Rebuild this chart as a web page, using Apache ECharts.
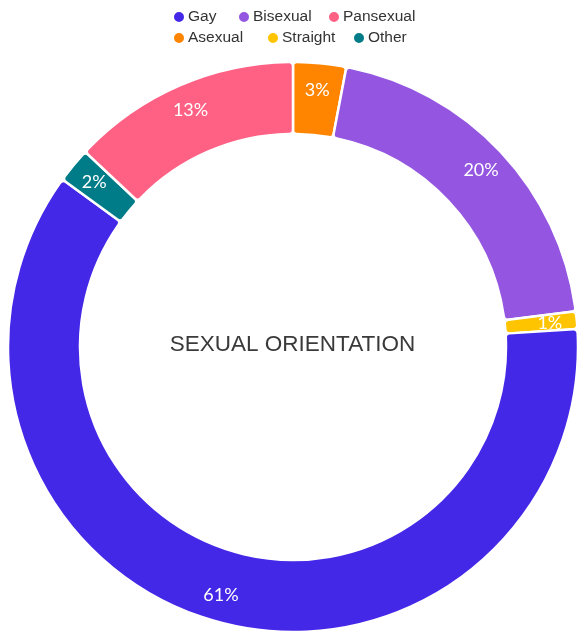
<!DOCTYPE html>
<html>
<head>
<meta charset="utf-8">
<script src="https://cdn.jsdelivr.net/npm/echarts@6/dist/echarts.min.js"></script>
<style>
  html, body, #main { width: 100%; height: 100%; margin: 0; background: #fff; }
</style>
</head>
<body>
<div id="main"></div>
<script>
// slices in drawing order, clockwise from 12 o'clock
var names = ['Asexual', 'Bisexual', 'Straight', 'Gay', 'Other', 'Pansexual']
var values = [3, 20, 1, 61, 2, 13]
var colors = ['#ff8500', '#9455e1', '#ffc400', '#4428e7', '#007c89', '#ff6184']
// legend rows as they appear at the top
var legendRow1 = ['Gay', 'Bisexual', 'Pansexual']
var legendRow2 = ['Asexual', 'Straight', 'Other']

var data = names.map(function (n, i) {
  return { name: n, value: values[i], itemStyle: { color: colors[i] } }
})

var chart = echarts.init(document.getElementById('main'))
var font = '"Liberation Sans", Arial, sans-serif'

// one legend per entry so the spacing follows the original
var legendX = [[172, 237, 327], [172, 266, 352]]
var legends = []
;[legendRow1, legendRow2].forEach(function (row, r) {
  row.forEach(function (name, i) {
    legends.push({
      data: [name],
      left: legendX[r][i],
      top: r ? 30 : 9,
      padding: 0,
      itemWidth: 12,
      itemHeight: 12,
      icon: 'circle',
      textStyle: { fontFamily: font, fontSize: 15.5, color: '#333', padding: [0, 0, 0, -2] }
    })
  })
})

chart.setOption({
  animation: false,
  legend: legends,
  graphic: [{
    type: 'text',
    x: 292.5,
    y: 345,
    style: {
      text: 'SEXUAL ORIENTATION',
      align: 'center',
      verticalAlign: 'middle',
      fontFamily: font,
      fontSize: 22.5,
      fill: '#3a3a3a'
    }
  }],
  series: [{
    type: 'pie',
    center: [293, 347],
    radius: [213, 285],
    startAngle: 90,
    data: data,
    label: { show: false },
    labelLine: { show: false },
    itemStyle: { borderColor: '#fff', borderWidth: 2.5, borderRadius: 4 },
    emphasis: { scale: false }
  }, {
    // same slices again, only to place the labels nearer the outer edge
    type: 'pie',
    silent: true,
    center: [293, 347],
    radius: [225, 285],
    startAngle: 90,
    data: data.map(function (d) {
      return { name: d.name, value: d.value, itemStyle: { color: 'rgba(0,0,0,0)' } }
    }),
    label: {
      show: true,
      position: 'inside',
      formatter: '{c}%',
      color: '#fff',
      fontFamily: 'Lato, sans-serif',
      fontSize: 18
    },
    labelLine: { show: false },
    itemStyle: { borderWidth: 0 },
    emphasis: { disabled: true }
  }]
})
</script>
</body>
</html>
